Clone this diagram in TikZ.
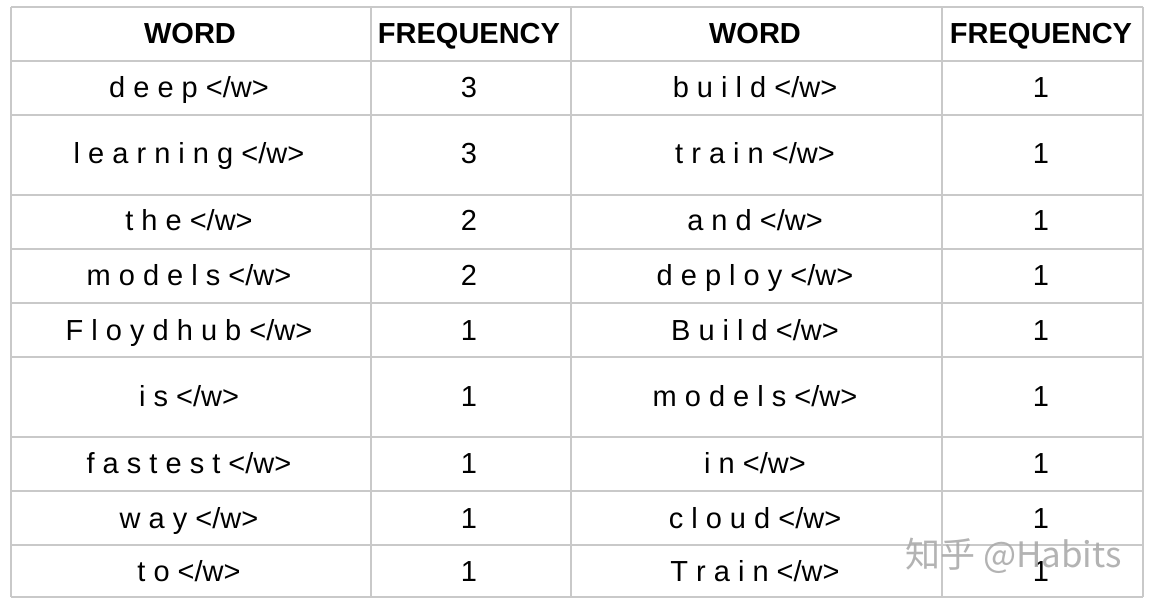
\documentclass[tikz,border=0pt]{standalone}
\usepackage{fontspec}
\setmainfont{Liberation Sans}
\newfontfamily\cjkfont{Noto Sans CJK SC}
\usepackage{xcolor}
\usepackage{tikz}
\definecolor{grid}{HTML}{C9C9C9}
\definecolor{ink}{HTML}{000000}
\definecolor{wmark}{HTML}{ABABAB}
\tikzset{
  gline/.style={draw=grid, line width=1.6pt},
  head/.style={text=ink, anchor=base, inner sep=0pt, font=\fontsize{29}{31}\selectfont\bfseries},
  cell/.style={text=ink, anchor=base, inner sep=0pt, font=\fontsize{29}{31}\selectfont},
  water/.style={text=wmark, anchor=base west, inner sep=0pt, opacity=0.9, font=\cjkfont\fontsize{35}{37}\selectfont}
}

\begin{document}
\begin{tikzpicture}[x=1pt, y=-1pt]
  \useasboundingbox[fill=white] (0,0) rectangle (1152,604);

  % grid
  \foreach \y in {7,61,115,195,249,303,357,437,491,545,597}
    \draw[gline] (11,\y) -- (1143,\y);
  \foreach \x in {11,371,571,942,1143}
    \draw[gline] (\x,7) -- (\x,597);

  % header
  \node[head] (lwh) at (190,44) {WORD};
  \node[head] (lfh) at (469,44) {FREQUENCY};
  \node[head] (rwh) at (755,44) {WORD};
  \node[head] (rfh) at (1041,44) {FREQUENCY};

  % left half
  \node[cell] (lw1) at (189,98) {d e e p </w>};
  \node[cell] (lf1) at (469,98) {3};
  \node[cell] (lw2) at (189,164) {l e a r n i n g </w>};
  \node[cell] (lf2) at (469,164) {3};
  \node[cell] (lw3) at (189,231) {t h e </w>};
  \node[cell] (lf3) at (469,231) {2};
  \node[cell] (lw4) at (189,286) {m o d e l s </w>};
  \node[cell] (lf4) at (469,286) {2};
  \node[cell] (lw5) at (189,340) {F l o y d h u b </w>};
  \node[cell] (lf5) at (469,340) {1};
  \node[cell] (lw6) at (189,406) {i s </w>};
  \node[cell] (lf6) at (469,406) {1};
  \node[cell] (lw7) at (189,473) {f a s t e s t </w>};
  \node[cell] (lf7) at (469,473) {1};
  \node[cell] (lw8) at (189,528) {w a y </w>};
  \node[cell] (lf8) at (469,528) {1};
  \node[cell] (lw9) at (189,581) {t o </w>};
  \node[cell] (lf9) at (469,581) {1};

  % right half
  \node[cell] (rw1) at (755,98) {b u i l d </w>};
  \node[cell] (rf1) at (1041,98) {1};
  \node[cell] (rw2) at (755,164) {t r a i n </w>};
  \node[cell] (rf2) at (1041,164) {1};
  \node[cell] (rw3) at (755,231) {a n d </w>};
  \node[cell] (rf3) at (1041,231) {1};
  \node[cell] (rw4) at (755,286) {d e p l o y </w>};
  \node[cell] (rf4) at (1041,286) {1};
  \node[cell] (rw5) at (755,340) {B u i l d </w>};
  \node[cell] (rf5) at (1041,340) {1};
  \node[cell] (rw6) at (755,406) {m o d e l s </w>};
  \node[cell] (rf6) at (1041,406) {1};
  \node[cell] (rw7) at (755,473) {i n </w>};
  \node[cell] (rf7) at (1041,473) {1};
  \node[cell] (rw8) at (755,528) {c l o u d </w>};
  \node[cell] (rf8) at (1041,528) {1};
  \node[cell] (rw9) at (755,581) {T r a i n </w>};
  \node[cell] (rf9) at (1041,581) {1};

  % watermark
  \node[water] (mark) at (905,567) {知乎 @Habits};
\end{tikzpicture}
\end{document}
